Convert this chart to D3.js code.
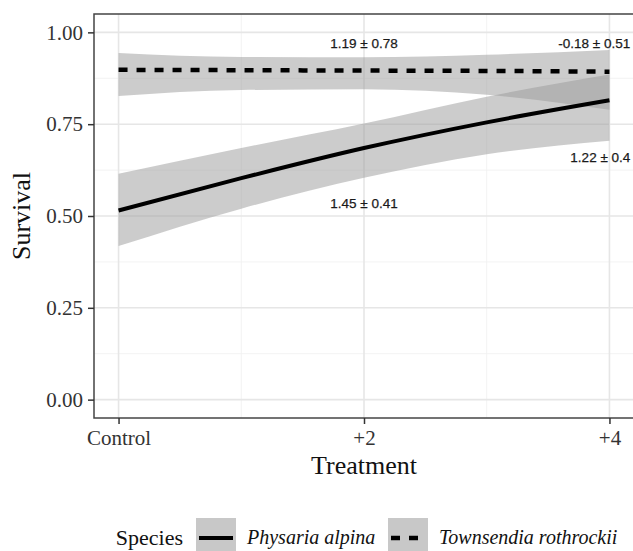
<!DOCTYPE html>
<html lang="en">
<head>
<meta charset="UTF-8">
<title>Survival by treatment</title>
<script src="https://d3js.org/d3.v7.min.js"></script>
<style>
  body { margin: 0; background: #fff; }
  svg { display: block; }
</style>
</head>
<body>
<svg id="chart" width="633" height="551"></svg>
<script>
// treatment levels (0 = Control) and their tick labels
const treatment = [0, 1, 2, 3, 4];
const tickValues = [0, 2, 4];
const tickLabels = ["Control", "+2", "+4"];
const yTicks = [0, 0.25, 0.5, 0.75, 1];

// fitted survival with confidence band
const physariaFit   = [0.515, 0.603, 0.685, 0.755, 0.815];
const physariaLower = [0.418, 0.52, 0.604, 0.668, 0.705];
const physariaUpper = [0.615, 0.685, 0.752, 0.825, 0.885];

const townsendiaFit   = [0.898, 0.897, 0.896, 0.895, 0.893];
const townsendiaLower = [0.827, 0.843, 0.845, 0.83, 0.789];
const townsendiaUpper = [0.944, 0.933, 0.932, 0.939, 0.952];

const speciesNames = ["Physaria alpina", "Townsendia rothrockii"];

// coefficient labels: [x, y, text, anchor]
const annotations = [
    [2, 0.97, "1.19 \u00b1 0.78", "middle"],
    [4.17, 0.97, "-0.18 \u00b1 0.51", "end"],
    [4.17, 0.66, "1.22 \u00b1 0.4", "end"],
    [2, 0.535, "1.45 \u00b1 0.41", "middle"]
];

const serif = "'Liberation Serif', 'Times New Roman', serif";
const sans = "'Liberation Sans', Arial, sans-serif";

const svg = d3.select("#chart");

const x = d3.scaleLinear().domain([-0.2, 4.2]).range([94, 634]);
const y = d3.scaleLinear().domain([-0.05, 1.05]).range([418, 14]);

const panel = svg.append("g");

// minor grid
panel.selectAll("line.minorx")
    .data([1, 3])
    .enter().append("line")
    .attr("x1", d => x(d)).attr("x2", d => x(d))
    .attr("y1", y(-0.05)).attr("y2", y(1.05))
    .attr("stroke", "#f0f0f0").attr("stroke-width", 0.9);
panel.selectAll("line.minory")
    .data([0.125, 0.375, 0.625, 0.875])
    .enter().append("line")
    .attr("x1", x(-0.2)).attr("x2", x(4.2))
    .attr("y1", d => y(d)).attr("y2", d => y(d))
    .attr("stroke", "#f0f0f0").attr("stroke-width", 0.9);

// major grid
panel.selectAll("line.majorx")
    .data(tickValues)
    .enter().append("line")
    .attr("x1", d => x(d)).attr("x2", d => x(d))
    .attr("y1", y(-0.05)).attr("y2", y(1.05))
    .attr("stroke", "#e6e6e6").attr("stroke-width", 1.6);
panel.selectAll("line.majory")
    .data(yTicks)
    .enter().append("line")
    .attr("x1", x(-0.2)).attr("x2", x(4.2))
    .attr("y1", d => y(d)).attr("y2", d => y(d))
    .attr("stroke", "#e6e6e6").attr("stroke-width", 1.6);

const curve = d3.curveMonotoneX;

const area = d3.area()
    .x(d => x(d.x))
    .y0(d => y(d.lo))
    .y1(d => y(d.hi))
    .curve(curve);

const line = d3.line()
    .x(d => x(d.x))
    .y(d => y(d.y))
    .curve(curve);

const physaria = treatment.map((t, i) => ({x: t, y: physariaFit[i], lo: physariaLower[i], hi: physariaUpper[i]}));
const townsendia = treatment.map((t, i) => ({x: t, y: townsendiaFit[i], lo: townsendiaLower[i], hi: townsendiaUpper[i]}));

[physaria, townsendia].forEach(s => {
    panel.append("path")
        .datum(s)
        .attr("d", area)
        .attr("fill", "#999")
        .attr("fill-opacity", 0.5);
});

panel.append("path")
    .datum(physaria)
    .attr("d", line)
    .attr("fill", "none")
    .attr("stroke", "#000")
    .attr("stroke-width", 4);

panel.append("path")
    .datum(townsendia)
    .attr("d", line)
    .attr("fill", "none")
    .attr("stroke", "#000")
    .attr("stroke-width", 4.5)
    .attr("stroke-dasharray", "9,9");

// coefficient labels
panel.selectAll("text.note")
    .data(annotations)
    .enter().append("text")
    .attr("x", d => x(d[0]))
    .attr("y", d => y(d[1]))
    .attr("dy", "0.35em")
    .attr("text-anchor", d => d[3])
    .attr("font-family", sans)
    .attr("font-size", 13.5)
    .attr("fill", "#1a1a1a")
    .attr("stroke", "#1a1a1a")
    .attr("stroke-width", 0.25)
    .text(d => d[2]);

// panel border
svg.append("rect")
    .attr("x", x(-0.2)).attr("y", y(1.05))
    .attr("width", x(4.2) - x(-0.2))
    .attr("height", y(-0.05) - y(1.05))
    .attr("fill", "none")
    .attr("stroke", "#444")
    .attr("stroke-width", 1.5);

// axes
const xAxis = d3.axisBottom(x)
    .tickValues(tickValues)
    .tickFormat((d, i) => tickLabels[i])
    .tickSize(6)
    .tickPadding(6);

const yAxis = d3.axisLeft(y)
    .tickValues(yTicks)
    .tickFormat(d3.format(".2f"))
    .tickSize(6)
    .tickPadding(5);

const gx = svg.append("g")
    .attr("transform", `translate(0,${y(-0.05)})`)
    .call(xAxis);
const gy = svg.append("g")
    .attr("transform", `translate(${x(-0.2)},0)`)
    .call(yAxis);

[gx, gy].forEach(g => {
    g.select(".domain").remove();
    g.selectAll(".tick line").attr("stroke", "#333").attr("stroke-width", 1.5);
    g.selectAll(".tick text")
        .attr("font-family", serif)
        .attr("font-size", 21)
        .attr("fill", "#333");
});

// axis titles
svg.append("text")
    .attr("x", (x(-0.2) + x(4.2)) / 2)
    .attr("y", 474)
    .attr("text-anchor", "middle")
    .attr("font-family", serif)
    .attr("font-size", 26)
    .attr("fill", "#111")
    .text("Treatment");

svg.append("text")
    .attr("transform", `translate(30,${(y(-0.05) + y(1.05)) / 2}) rotate(-90)`)
    .attr("text-anchor", "middle")
    .attr("font-family", serif)
    .attr("font-size", 26)
    .attr("fill", "#111")
    .text("Survival");

// legend
const legend = svg.append("g").attr("transform", "translate(0,538)");

legend.append("text")
    .attr("x", 183)
    .attr("dy", "0.32em")
    .attr("text-anchor", "end")
    .attr("font-family", serif)
    .attr("font-size", 22)
    .attr("fill", "#111")
    .text("Species");

const keyX = [196, 388];
const keyDash = [null, "9,9"];

speciesNames.forEach((name, i) => {
    const k = legend.append("g").attr("transform", `translate(${keyX[i]},0)`);
    k.append("rect")
        .attr("x", 0).attr("y", -20)
        .attr("width", 40).attr("height", 40)
        .attr("fill", "#c8c8c8");
    k.append("line")
        .attr("x1", 3).attr("x2", 37)
        .attr("stroke", "#000")
        .attr("stroke-width", i === 0 ? 4 : 4.5)
        .attr("stroke-dasharray", keyDash[i]);
    k.append("text")
        .attr("x", 51)
        .attr("dy", "0.32em")
        .attr("font-family", serif)
        .attr("font-style", "italic")
        .attr("font-size", 20)
        .attr("fill", "#111")
        .text(name);
});
</script>
</body>
</html>
